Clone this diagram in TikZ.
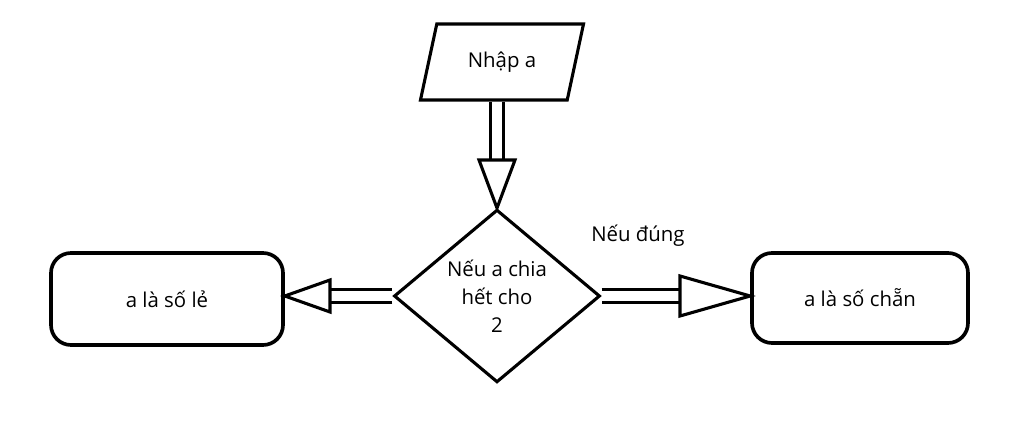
\documentclass[tikz,border=0pt]{standalone}
\usepackage{fontspec}
\setmainfont{Open Sans}
\usetikzlibrary{shapes.geometric, positioning, calc}
\tikzstyle{box} = [rectangle, rounded corners=0.5cm, draw=black, line width=2.6pt, align=center]
\tikzstyle{decision} = [diamond, draw=black, line width=2.2pt, inner sep=0pt, align=center, minimum width=5.15cm, minimum height=4.15cm]
\tikzstyle{io} = [trapezium, trapezium left angle=72, trapezium right angle=108, trapezium stretches=true, draw=black, line width=2.2pt, minimum width=4.1cm, minimum height=1.9cm]
\tikzstyle{shaft} = [double, double distance=7.5pt, line width=2.2pt]
\tikzstyle{tip} = [line width=2.2pt, fill=white]

\begin{document}
\begin{tikzpicture}[font=\fontsize{14.5}{20}\selectfont]
        \useasboundingbox (0,0) rectangle (25.6,10.6);
        \node (input) [io] at (12.55,9.05) {Nhập a};
        \node (check) [decision] at (12.425,3.2) {Nếu a chia\\hết cho\\2};
        \node (odd) [box, minimum width=5.8cm, minimum height=2.3cm] at (4.175,3.125) {a là số lẻ};
        \node (even) [box, minimum width=5.4cm, minimum height=2.25cm] at (21.5,3.15) {a là số chẵn};
        \node (yes) at (15.95,4.7) {Nếu đúng};

        % input -> check
        \coordinate (down) at (check.north |- 0,6.6);
        \draw [shaft] (input.south -| down) -- ($(down)+(0,-0.1)$);
        \draw [tip] ($(down)+(-0.45,0)$) -- (check.north) -- ($(down)+(0.45,0)$) -- cycle;

        % check -> odd
        \coordinate (left) at (8.25,3.2);
        \draw [shaft] (check.west) -- ($(left)+(-0.1,0)$);
        \draw [tip] ($(left)+(0,0.4)$) -- (odd.east |- left) -- ($(left)+(0,-0.4)$) -- cycle;

        % check -> even
        \coordinate (right) at (17.0,3.2);
        \draw [shaft] (check.east) -- ($(right)+(0.1,0)$);
        \draw [tip] ($(right)+(0,0.5)$) -- (even.west |- right) -- ($(right)+(0,-0.5)$) -- cycle;
\end{tikzpicture}
\end{document}
